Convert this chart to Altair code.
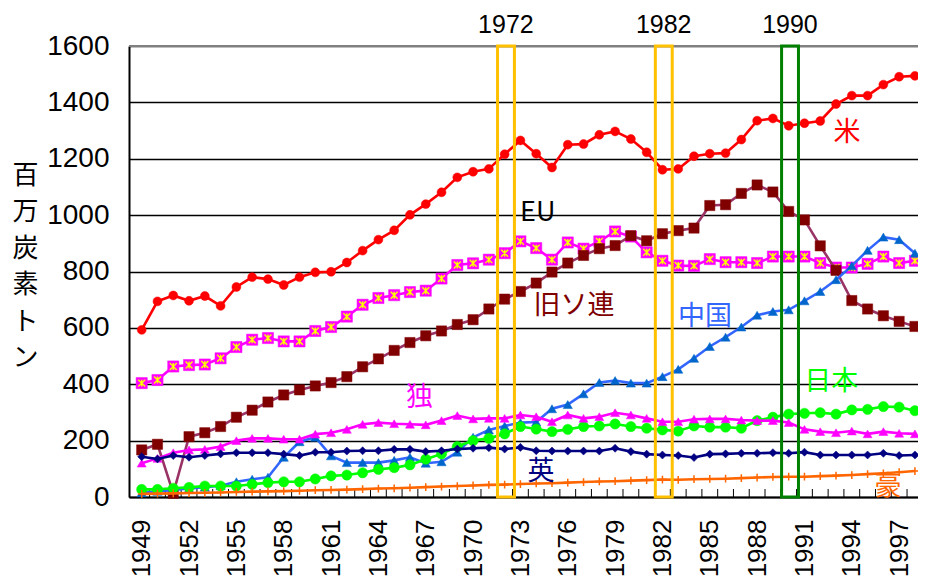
import altair as alt
import pandas as pd

years = list(range(1949, 1999))

usa = [593, 694, 715, 696, 713, 678, 745, 780, 773, 752,
       780, 797, 799, 832, 874, 913, 946, 1001, 1039, 1081,
       1134, 1154, 1164, 1216, 1265, 1218, 1169, 1250, 1252, 1285,
       1297, 1270, 1223, 1161, 1164, 1209, 1218, 1220, 1268, 1335,
       1343, 1317, 1326, 1334, 1394, 1424, 1424, 1463, 1491, 1494]
eu = [404, 415, 463, 468, 470, 492, 532, 558, 564, 552,
      552, 589, 603, 640, 682, 706, 716, 727, 732, 775,
      823, 829, 842, 865, 907, 883, 842, 903, 881, 907,
      942, 924, 868, 838, 821, 820, 844, 833, 833, 830,
      853, 853, 853, 830, 814, 814, 827, 853, 830, 838]
ussr = [167, 187, 13, 214, 228, 250, 283, 308, 337, 362,
        380, 394, 406, 427, 462, 490, 520, 548, 572, 589,
        612, 629, 667, 702, 729, 759, 798, 830, 857, 881,
        892, 927, 909, 934, 945, 954, 1034, 1037, 1077, 1107,
        1082, 1013, 983, 891, 804, 697, 667, 643, 623, 605]
china = [15, 20, 25, 30, 35, 40, 54, 63, 70, 141,
         196, 212, 146, 122, 122, 122, 130, 141, 120, 125,
         159, 212, 238, 252, 264, 266, 313, 328, 366, 406,
         413, 404, 404, 427, 453, 492, 534, 567, 603, 645,
         658, 664, 696, 729, 771, 820, 875, 922, 913, 865]
japan = [27, 27, 31, 34, 39, 39, 39, 45, 51, 54,
         54, 64, 75, 78, 86, 98, 104, 114, 134, 153,
         179, 200, 208, 224, 250, 241, 232, 240, 250, 252,
         259, 250, 244, 238, 234, 252, 248, 248, 244, 271,
         283, 294, 297, 299, 294, 309, 311, 321, 319, 306]
germany = [120, 137, 157, 167, 169, 179, 200, 208, 208, 205,
           205, 223, 228, 240, 258, 264, 260, 258, 256, 271,
           289, 277, 279, 279, 291, 285, 267, 291, 279, 285,
           299, 291, 279, 267, 267, 276, 277, 277, 273, 271,
           271, 264, 240, 232, 228, 234, 224, 232, 226, 224]
uk = [143, 135, 147, 141, 147, 153, 157, 157, 157, 152,
      147, 159, 159, 163, 164, 164, 169, 169, 161, 164,
      170, 173, 175, 170, 176, 164, 163, 163, 163, 163,
      173, 161, 152, 149, 147, 140, 152, 153, 155, 155,
      157, 155, 159, 149, 149, 149, 149, 155, 147, 149]
australia = [11, 12, 13, 14, 15, 16, 18, 19, 20, 21,
             22, 24, 25, 26, 28, 30, 31, 33, 35, 37,
             39, 41, 43, 44, 46, 48, 49, 51, 53, 55,
             56, 58, 60, 62, 61, 63, 64, 65, 67, 69,
             71, 72, 72, 74, 76, 78, 81, 84, 88, 92]

series_names = ["米", "EU", "旧ソ連", "中国", "日本", "独", "英", "豪"]
series_values = [usa, eu, ussr, china, japan, germany, uk, australia]

box_years = [1972, 1982, 1990]
box_colors = ["#FFC000", "#FFC000", "#008000"]

x_label_years = list(range(1949, 1998, 3))
y_ticks = [0, 200, 400, 600, 800, 1000, 1200, 1400, 1600]

# series label annotations (position in data coordinates)
label_names = ["米", "EU", "旧ソ連", "中国", "日本", "独", "英", "豪"]
label_x = [1993.7, 1974.1, 1976.4, 1984.7, 1992.7, 1966.6, 1974.3, 1996.3]
label_y = [1291, 1008, 676, 640, 409, 350, 90, 37]
label_colors = ["#FF0000", "#000000", "#800000", "#3366FF", "#00FF00", "#FF00FF", "#000080", "#FF6600"]

# styles (line colour, marker colour, shape, size)
styles = {
    "米": ("#FF0000", "#FF0000", "circle", 80),
    "EU": ("#FF00FF", "#FF00FF", "square", 125),
    "旧ソ連": ("#993366", "#800000", "square", 105),
    "中国": ("#3366FF", "#0066CC", "triangle-up", 85),
    "日本": ("#00FF00", "#00FF00", "circle", 105),
    "独": ("#FF00FF", "#FF00FF", "triangle-up", 80),
    "英": ("#000080", "#000080", "diamond", 65),
    "豪": ("#FF6600", "#FF6600", "M-1,0L1,0M0,-1L0,1", 60),
}

rows = []
for name, vals in zip(series_names, series_values):
    for yr, v in zip(years, vals):
        rows.append({"year": yr, "value": v, "series": name})
df = pd.DataFrame(rows)

W, H = 789, 451
xscale = alt.Scale(domain=[1948.195, 1998.195], nice=False, zero=False)
yscale = alt.Scale(domain=[0, 1600], nice=False)

JP = "Noto Sans CJK JP"
NUM = "Liberation Sans"

xax = alt.Axis(values=x_label_years, labelAngle=270, grid=False, ticks=False,
               domainColor="#000000", domainWidth=2, labelPadding=22,
               labelFontSize=26, labelFont=NUM, labelColor="#000000",
               format="d", title=None, labelFlush=False, labelOverlap=False)
yax = alt.Axis(values=y_ticks, grid=True, gridColor="#000000", gridWidth=1.6, format="d",
               ticks=False, domainColor="#000000", domainWidth=2,
               labelPadding=20, labelFontSize=28, labelFont=NUM, labelColor="#000000",
               title=list("百万炭素トン"), titleAngle=0, titleX=-104, titleY=116,
               titleBaseline="top", titleAlign="center", titleLineHeight=36.5,
               titleFont=JP, titleFontSize=26, titleFontWeight="normal",
               titleColor="#000000", labelFlush=False)


def X(field):
    return alt.X(field, scale=xscale, axis=xax)


def Y(field):
    return alt.Y(field, scale=yscale, axis=yax)


layers = []

# axes carrier (invisible)
layers.append(alt.Chart(df).mark_point(opacity=0).encode(x=X("year:Q"), y=Y("value:Q")))

# top border
layers.append(alt.Chart(pd.DataFrame({"value": [y_ticks[-1]]})).mark_rule(color="#808080", strokeWidth=2).encode(
    x=alt.value(0), x2=alt.value(W), y=Y("value:Q")))

# inner minor ticks at category boundaries
tick_df = pd.DataFrame({"year": [y + 0.5 for y in years[:-1]]})
layers.append(alt.Chart(tick_df).mark_rule(color="#000000", strokeWidth=1).encode(
    x=X("year:Q"), y=alt.value(H), y2=alt.value(H - 8)))

# lines and markers
for name in series_names:
    lc, mc, shp, sz = styles[name]
    sdf = df[df.series == name]
    layers.append(alt.Chart(sdf).mark_line(color=lc, strokeWidth=2.6).encode(
        x=X("year:Q"), y=Y("value:Q")))
    if name == "豪":
        layers.append(alt.Chart(sdf).mark_point(shape=shp, size=sz, stroke=mc, strokeWidth=1.5, filled=False,
                                                opacity=1).encode(x=X("year:Q"), y=Y("value:Q")))
    else:
        layers.append(alt.Chart(sdf).mark_point(shape=shp, size=sz, fill=mc, filled=True, opacity=1,
                                                stroke=mc, strokeWidth=0.5).encode(x=X("year:Q"), y=Y("value:Q")))
    if name == "EU":
        layers.append(alt.Chart(sdf).mark_point(shape="M-1,-1L1,1M-1,1L1,-1M0,-1L0,1", size=48,
                                                stroke="#FFFF00", strokeWidth=1.4, filled=False, opacity=1).encode(
            x=X("year:Q"), y=Y("value:Q")))

# highlight boxes
box_df = pd.DataFrame({"year": box_years, "c": box_colors, "lo": [y_ticks[0]] * 3, "hi": [y_ticks[-1]] * 3})
layers.append(alt.Chart(box_df).transform_calculate(
    x1="datum.year - 0.45", x2="datum.year + 0.62", value="datum.lo").mark_rect(filled=False, strokeWidth=3).encode(
    x=X("x1:Q"), x2="x2:Q", y=Y("value:Q"), y2="hi:Q",
    stroke=alt.Stroke("c:N", scale=None)))
layers.append(alt.Chart(box_df).transform_calculate(
    xm="datum.year + 0.08", t="''+datum.year").mark_text(fontSize=25, font=NUM, color="#000000",
                                                         baseline="middle", align="center").encode(
    x=X("xm:Q"), y=alt.value(-21), text="t:N"))

# series labels
lab_df = pd.DataFrame({"name": label_names, "x": label_x, "value": label_y, "c": label_colors})
layers.append(alt.Chart(lab_df).mark_text(fontSize=27, font=JP, baseline="middle", align="center").encode(
    x=X("x:Q"), y=Y("value:Q"), text="name:N", color=alt.Color("c:N", scale=None)))

chart = alt.layer(*layers).properties(
    width=W, height=H,
    autosize=alt.AutoSizeParams(type="none"),
    padding={"left": 121, "top": 38, "right": 0, "bottom": 84},
).configure_view(stroke=None).configure(background="#FFFFFF")

chart.save("out.html", embed_options={"renderer": "svg", "actions": False})
